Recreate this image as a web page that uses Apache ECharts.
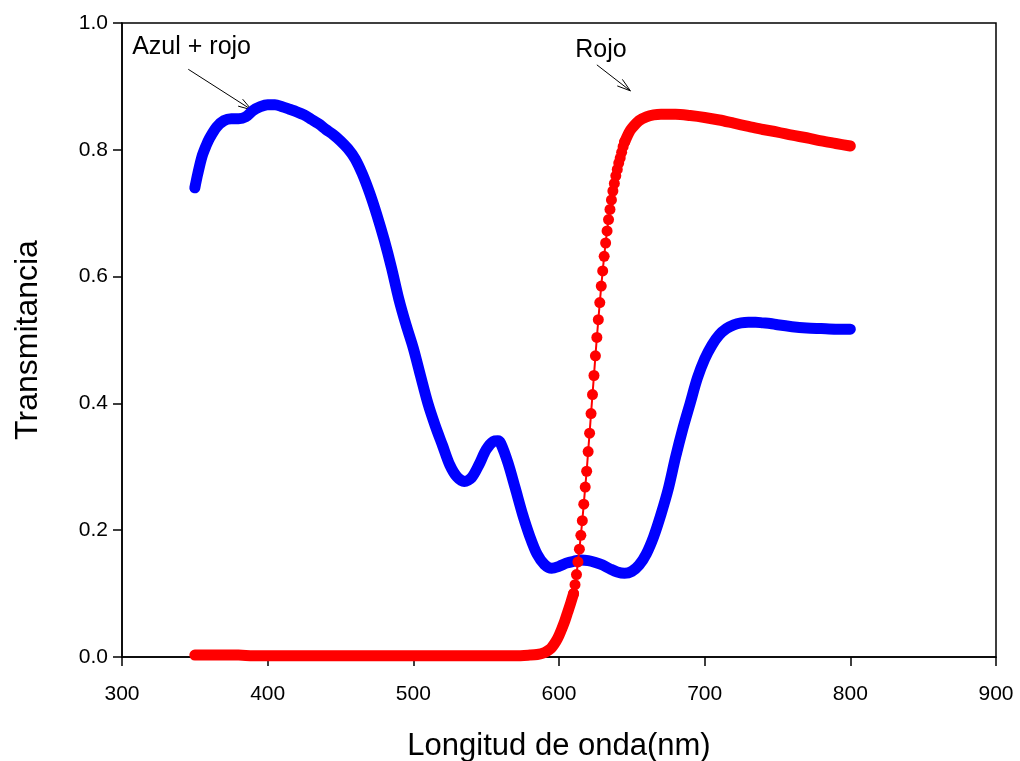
<!DOCTYPE html>
<html>
<head>
<meta charset="utf-8">
<title>Transmitancia</title>
<script src="https://cdn.jsdelivr.net/npm/echarts@6/dist/echarts.min.js"></script>
<style>
  html, body { margin: 0; padding: 0; background: #fff; }
  #chart { width: 1020px; height: 761px; }
</style>
</head>
<body>
<div id="chart"></div>
<script>
// curva azul + rojo (longitud de onda en nm, transmitancia)
const blueWave = [350, 352, 355, 358, 360, 365, 370, 375, 380, 385, 390, 395, 400, 405, 410, 415, 420, 425, 430, 435, 440, 445, 450, 455, 460, 465, 470, 475, 480, 485, 490, 495, 500, 505, 510, 515, 520, 525, 530, 535, 540, 545, 550, 555, 558, 560, 565, 570, 575, 580, 585, 590, 595, 600, 605, 610, 615, 620, 625, 630, 635, 640, 645, 650, 655, 660, 665, 670, 675, 680, 685, 690, 695, 700, 705, 710, 715, 720, 725, 730, 735, 740, 745, 750, 760, 770, 780, 790, 800]
const blueT = [0.740, 0.762, 0.790, 0.808, 0.818, 0.836, 0.846, 0.849, 0.849, 0.852, 0.862, 0.868, 0.871, 0.871, 0.868, 0.864, 0.860, 0.855, 0.848, 0.841, 0.832, 0.824, 0.814, 0.802, 0.786, 0.762, 0.732, 0.697, 0.658, 0.614, 0.565, 0.524, 0.487, 0.443, 0.400, 0.365, 0.334, 0.303, 0.284, 0.277, 0.283, 0.303, 0.327, 0.340, 0.341, 0.337, 0.306, 0.266, 0.225, 0.190, 0.162, 0.146, 0.140, 0.143, 0.148, 0.151, 0.153, 0.152, 0.149, 0.145, 0.139, 0.134, 0.132, 0.135, 0.145, 0.163, 0.190, 0.225, 0.265, 0.315, 0.360, 0.400, 0.440, 0.470, 0.492, 0.508, 0.518, 0.524, 0.527, 0.528, 0.528, 0.527, 0.526, 0.524, 0.521, 0.519, 0.518, 0.517, 0.517]

// curva rojo: tramo bajo, tramo de subida (cada nm), tramo alto
const redLowWave = [350, 360, 370, 380, 390, 400, 420, 440, 460, 480, 500, 520, 540, 560, 570, 580, 585, 590, 593, 595, 598, 600, 602, 604, 606, 608, 610]
const redLowT = [0.003, 0.003, 0.003, 0.003, 0.002, 0.002, 0.002, 0.002, 0.002, 0.002, 0.002, 0.002, 0.002, 0.002, 0.002, 0.003, 0.004, 0.007, 0.011, 0.015, 0.025, 0.034, 0.045, 0.057, 0.071, 0.085, 0.100]
const redSteepWave = [610, 611, 612, 613, 614, 615, 616, 617, 618, 619, 620, 621, 622, 623, 624, 625, 626, 627, 628, 629, 630, 631, 632, 633, 634, 635, 636, 637, 638, 639, 640, 641, 642, 643, 644, 645]
const redSteepT = [0.100, 0.114, 0.130, 0.150, 0.170, 0.192, 0.215, 0.241, 0.268, 0.293, 0.324, 0.353, 0.384, 0.414, 0.444, 0.475, 0.504, 0.532, 0.559, 0.585, 0.609, 0.632, 0.653, 0.672, 0.690, 0.706, 0.721, 0.735, 0.747, 0.759, 0.769, 0.779, 0.787, 0.796, 0.805, 0.812]
const redHighWave = [645, 648, 650, 655, 660, 665, 670, 675, 680, 690, 700, 710, 720, 730, 740, 750, 760, 770, 780, 790, 800]
const redHighT = [0.812, 0.827, 0.834, 0.846, 0.852, 0.855, 0.856, 0.856, 0.856, 0.854, 0.851, 0.847, 0.842, 0.837, 0.832, 0.828, 0.823, 0.819, 0.814, 0.810, 0.806]

const xTicks = [300, 400, 500, 600, 700, 800, 900]
const yTicks = [0.0, 0.2, 0.4, 0.6, 0.8, 1.0]

// etiquetas con flecha (coordenadas de datos)
const notes = [
  { text: 'Azul + rojo', at: [307, 0.962], from: [345.5, 0.927], to: [389, 0.863] },
  { text: 'Rojo', at: [628.8, 0.958], from: [626, 0.934], to: [649, 0.893], center: true }
]

const zip = (xs, ys) => xs.map((x, i) => [x, ys[i]])

const FONT = '"Liberation Sans", Arial, sans-serif'

const thick = (color, data) => ({
  type: 'line',
  data: data,
  smooth: 0.3,
  symbol: 'none',
  lineStyle: { color: color, width: 11, cap: 'round', join: 'round' },
  z: 2
})

const chart = echarts.init(document.getElementById('chart'))

chart.setOption({
  animation: false,
  grid: {
    left: 122, right: 24, top: 23, bottom: 104,
    outerBoundsMode: 'none', containLabel: false,
    show: true, borderColor: '#000', borderWidth: 1.5, backgroundColor: 'transparent'
  },
  xAxis: {
    type: 'value',
    min: xTicks[0], max: xTicks[xTicks.length - 1], interval: 100,
    name: 'Longitud de onda(nm)', nameLocation: 'middle', nameGap: 74,
    nameTextStyle: { fontFamily: FONT, fontSize: 31, color: '#000' },
    axisLine: { lineStyle: { color: '#000', width: 1.5 } },
    axisTick: { length: 9, lineStyle: { color: '#000', width: 1.5 } },
    axisLabel: { margin: 27, fontFamily: FONT, fontSize: 21, color: '#000' },
    splitLine: { show: false }
  },
  yAxis: {
    type: 'value',
    min: yTicks[0], max: yTicks[yTicks.length - 1], interval: 0.2,
    name: 'Transmitancia', nameLocation: 'middle', nameGap: 78,
    nameTextStyle: { fontFamily: FONT, fontSize: 32, color: '#000' },
    axisLine: { show: true, lineStyle: { color: '#000', width: 1.5 } },
    axisTick: { show: true, length: 9, lineStyle: { color: '#000', width: 1.5 } },
    axisLabel: { margin: 14, fontFamily: FONT, fontSize: 21, color: '#000', formatter: v => v.toFixed(1) },
    splitLine: { show: false }
  },
  series: [
    thick('#0000ff', zip(blueWave, blueT)),
    thick('#ff0000', zip(redLowWave, redLowT)),
    {
      type: 'line',
      data: zip(redSteepWave, redSteepT),
      symbol: 'circle',
      symbolSize: 11,
      showAllSymbol: true,
      itemStyle: { color: '#ff0000' },
      lineStyle: { color: '#ff0000', width: 2 },
      z: 3
    },
    thick('#ff0000', zip(redHighWave, redHighT))
  ]
})

// dibujar textos y flechas
const graphics = []
notes.forEach(n => {
  const p = chart.convertToPixel({ gridIndex: 0 }, n.at)
  const a = chart.convertToPixel({ gridIndex: 0 }, n.from)
  const b = chart.convertToPixel({ gridIndex: 0 }, n.to)
  graphics.push({
    type: 'text', x: p[0], y: p[1],
    style: { text: n.text, fontFamily: FONT, fontSize: 25, fill: '#000', align: n.center ? 'center' : 'left', verticalAlign: 'middle' }
  })
  graphics.push({ type: 'line', shape: { x1: a[0], y1: a[1], x2: b[0], y2: b[1] }, style: { stroke: '#000', lineWidth: 1 } })
  const ang = Math.atan2(b[1] - a[1], b[0] - a[0])
  const len = 14
  const spread = 0.3
  const h1 = [b[0] - len * Math.cos(ang - spread), b[1] - len * Math.sin(ang - spread)]
  const h2 = [b[0] - len * Math.cos(ang + spread), b[1] - len * Math.sin(ang + spread)]
  graphics.push({ type: 'polyline', shape: { points: [h1, b, h2] }, style: { stroke: '#000', lineWidth: 1, fill: null } })
})
chart.setOption({ graphic: graphics })
</script>
</body>
</html>
